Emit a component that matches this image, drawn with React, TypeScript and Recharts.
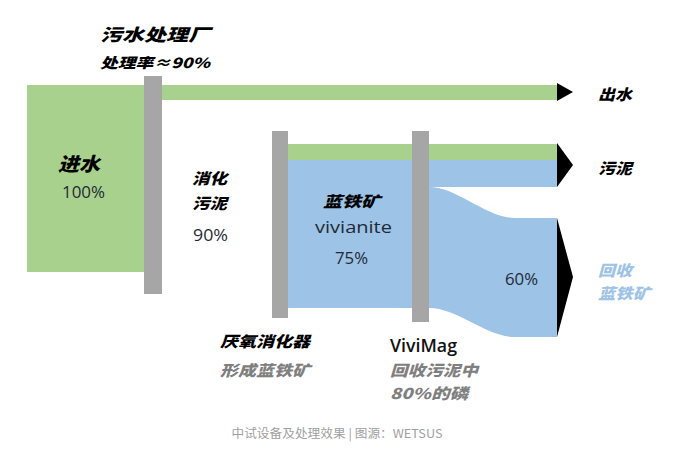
import React from "react";
import { ComposedChart, Area, Scatter, XAxis, YAxis } from "recharts";

const GREEN = "#a9d18e";
const BLUE = "#9dc3e6";
const GRAY = "#a6a6a6";

// flow bands, in % of the inflow, measured from the top of the inflow block
const inflow = [0, 100];
const effluent = [0, 8];
const sludgeWater = [31.6, 40.1];
const sludgeRest = [40.1, 54.5];
const vivianiteIn = [54.5, 119.3];
const vivianiteOut = [71.1, 134.8];

// unit blocks (gray bars)
const plantBar = [-4.8, 111.8];
const digesterBar = [24.6, 124.6];
const vivimagBar = [24.6, 126.7];

// arrow heads: [top, bottom, tip]
const waterArrow = [-1.1, 8.6, 3.7];
const sludgeArrow = [31.0, 54.5, 42.8];
const recoverArrow = [71.1, 134.8, 102.7];

// horizontal stages
const X = {
  start: 27, plant: 144, plantEnd: 162, digester: 272, digesterEnd: 288,
  vivimag: 412, vivimagEnd: 429, bendEnd: 515, outlet: 557, tip: 573,
};

const band = (x0: number, x1: number, r: number[]) => [
  { x: x0, v: r },
  { x: x1, v: r },
];
const arrow = (a: number[]) => [
  { x: X.outlet, v: [a[0], a[1]] },
  { x: X.tip, v: [a[2], a[2]] },
];
const vivianiteFlow = [
  { x: X.digesterEnd, v: vivianiteIn },
  { x: X.vivimagEnd, v: vivianiteIn },
  { x: X.bendEnd, v: vivianiteOut },
  { x: X.outlet, v: vivianiteOut },
];

const CJK = "'Noto Sans CJK SC', sans-serif";
const LAT = "'Open Sans', sans-serif";

type Lbl = { x: number; y: number; text: string; kind: string; w?: number; anchor?: string };

const styles: Record<string, any> = {
  title: { fontFamily: CJK, fontSize: 17, fontWeight: 900, fontStyle: "italic", fill: "#000" },
  head: { fontFamily: CJK, fontSize: 15, fontWeight: 900, fontStyle: "italic", fill: "#000" },
  big: { fontFamily: CJK, fontSize: 19, fontWeight: 900, fontStyle: "italic", fill: "#000" },
  sub: { fontFamily: CJK, fontSize: 14, fontWeight: 900, fontStyle: "italic", fill: "#000" },
  note: { fontFamily: CJK, fontSize: 15, fontWeight: 900, fontStyle: "italic", fill: "#7f7f7f" },
  blue: { fontFamily: CJK, fontSize: 15, fontWeight: 900, fontStyle: "italic", fill: BLUE },
  num: { fontFamily: LAT, fontSize: 17, fontWeight: 400, fill: "#1e2a36" },
  name: { fontFamily: LAT, fontSize: 18, fontWeight: 600, fill: "#111" },
  caption: { fontFamily: CJK, fontSize: 12, fontWeight: 400, fill: "#a0a0a0" },
};

const labels: Lbl[] = [
  { x: 100, y: -27.8, text: "污水处理厂", kind: "title", w: 110 },
  { x: 100, y: -12.3, text: "处理率≈90%", kind: "sub", w: 110 },
  { x: 58, y: 41.7, text: "进水", kind: "big", w: 42 },
  { x: 62, y: 57.2, text: "100%", kind: "num", w: 43 },
  { x: 192, y: 49.7, text: "消化", kind: "head", w: 35 },
  { x: 192, y: 63.1, text: "污泥", kind: "head", w: 35 },
  { x: 193, y: 80.2, text: "90%", kind: "num", w: 35 },
  { x: 323, y: 61.5, text: "蓝铁矿", kind: "head", w: 57 },
  { x: 315, y: 75.9, text: "vivianite", kind: "num", w: 77 },
  { x: 335, y: 92.5, text: "75%", kind: "num", w: 33 },
  { x: 505, y: 103.7, text: "60%", kind: "num", w: 33 },
  { x: 598, y: 4.3, text: "出水", kind: "head", w: 34 },
  { x: 598, y: 43.9, text: "污泥", kind: "head", w: 34 },
  { x: 598, y: 98.9, text: "回收", kind: "blue", w: 34 },
  { x: 598, y: 111.2, text: "蓝铁矿", kind: "blue", w: 52 },
  { x: 220, y: 136.4, text: "厌氧消化器", kind: "head", w: 90 },
  { x: 220, y: 152.4, text: "形成蓝铁矿", kind: "note", w: 90 },
  { x: 390, y: 139.0, text: "ViviMag", kind: "name", w: 67 },
  { x: 390, y: 152.4, text: "回收污泥中", kind: "note", w: 88 },
  { x: 390, y: 164.2, text: "80%的磷", kind: "note", w: 78 },
  { x: 337, y: 185.6, text: "中试设备及处理效果 | 图源：WETSUS", kind: "caption", w: 211, anchor: "middle" },
];

function renderLabel(p: any) {
  const d: Lbl = p.payload;
  if (p.cx == null || p.cy == null) return <g />;
  return (
    <text
      x={p.cx}
      y={p.cy}
      dominantBaseline="central"
      textAnchor={d.anchor || "start"}
      textLength={d.w}
      lengthAdjust="spacingAndGlyphs"
      {...styles[d.kind]}
    >
      {d.text}
    </text>
  );
}

const areaProps = {
  dataKey: "v",
  type: "linear" as const,
  stroke: "none",
  fillOpacity: 1,
  isAnimationActive: false,
  dot: false,
  activeDot: false,
};

export default function App() {
  return (
    <div style={{ position: "absolute", left: 0, top: 0, width: 692, height: 451, background: "#fff" }}>
      <ComposedChart width={692} height={451} margin={{ top: 0, right: 0, bottom: 0, left: 0 }}>
        <XAxis type="number" dataKey="x" domain={[0, 692]} hide allowDataOverflow />
        <YAxis type="number" dataKey="y" domain={[-45.45, 195.72]} reversed hide allowDataOverflow />

        <Area {...areaProps} data={band(X.start, X.plant, inflow)} fill={GREEN} />
        <Area {...areaProps} data={band(X.plantEnd, X.outlet, effluent)} fill={GREEN} />
        <Area {...areaProps} data={band(X.digesterEnd, X.outlet, sludgeWater)} fill={GREEN} />
        <Area {...areaProps} data={band(X.digesterEnd, X.outlet, sludgeRest)} fill={BLUE} />
        <Area {...areaProps} data={vivianiteFlow} type="monotoneX" fill={BLUE} />

        <Area {...areaProps} data={band(X.plant, X.plantEnd, plantBar)} fill={GRAY} />
        <Area {...areaProps} data={band(X.digester, X.digesterEnd, digesterBar)} fill={GRAY} />
        <Area {...areaProps} data={band(X.vivimag, X.vivimagEnd, vivimagBar)} fill={GRAY} />

        <Area {...areaProps} data={arrow(waterArrow)} fill="#000" />
        <Area {...areaProps} data={arrow(sludgeArrow)} fill="#000" />
        <Area {...areaProps} data={arrow(recoverArrow)} fill="#000" />

        <Scatter data={labels} shape={renderLabel} isAnimationActive={false} />
      </ComposedChart>
    </div>
  );
}
